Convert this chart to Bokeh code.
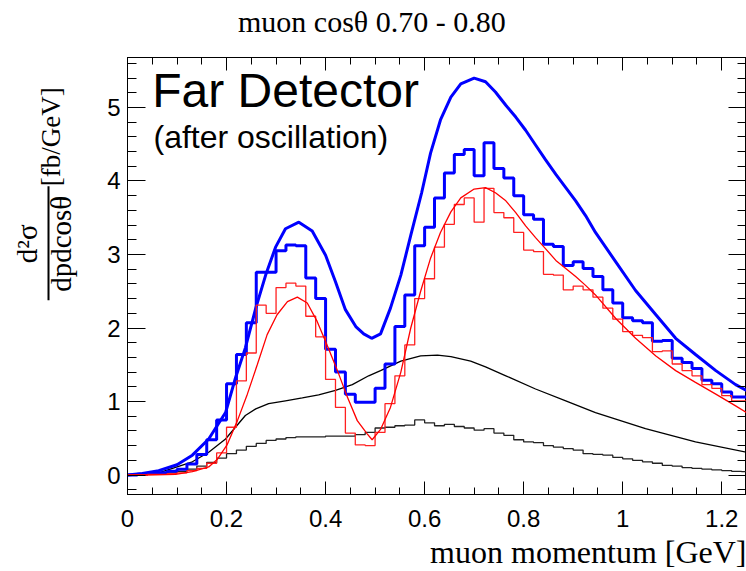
import numpy as np
from bokeh.plotting import figure
from bokeh.layouts import row, column
from bokeh.core.properties import value
from bokeh.models import (Label, LinearAxis, SingleIntervalTicker, Title,
                          CustomJSTickFormatter, Range1d)
from bokeh.embed import file_html
from bokeh.resources import INLINE

# ---------------- data ----------------
bin_width = 0.02

blue_hist = [0.0, 0.01, 0.02, 0.03, 0.05, 0.08, 0.15, 0.28, 0.48, 0.75,
             1.24, 1.64, 2.07, 2.76, 2.76, 3.05, 3.13, 3.12, 2.68, 2.40,
             1.71, 1.40, 1.10, 0.99, 0.99, 1.18, 1.51, 2.02, 2.45, 3.12,
             3.37, 3.77, 4.11, 4.36, 4.43, 4.07, 4.52, 4.17, 4.04, 3.80,
             3.54, 3.48, 3.14, 3.11, 2.85, 2.90, 2.81, 2.70, 2.52, 2.34,
             2.14, 2.10, 2.07, 1.82, 1.83, 1.59, 1.53, 1.45, 1.29, 1.24,
             1.13, 1.06, 1.06]

red_hist = [0.0, 0.0, 0.01, 0.01, 0.02, 0.03, 0.06, 0.09, 0.16, 0.30,
            0.65, 1.28, 1.66, 2.31, 2.20, 2.55, 2.61, 2.57, 2.16, 1.88,
            1.30, 0.92, 0.57, 0.41, 0.40, 0.58, 0.97, 1.35, 1.77, 2.40,
            2.67, 3.10, 3.41, 3.68, 3.77, 3.44, 3.90, 3.57, 3.50, 3.30,
            3.06, 3.04, 2.73, 2.72, 2.52, 2.57, 2.52, 2.42, 2.27, 2.12,
            1.95, 1.90, 1.87, 1.68, 1.69, 1.51, 1.42, 1.35, 1.23, 1.18,
            1.08, 1.01, 1.01]

black_hist = [0.0, 0.005, 0.01, 0.02, 0.03, 0.05, 0.08, 0.12, 0.17, 0.23,
              0.29, 0.34, 0.39, 0.43, 0.47, 0.49, 0.51, 0.52, 0.52, 0.52,
              0.53, 0.53, 0.53, 0.55, 0.58, 0.64, 0.65, 0.67, 0.68, 0.75,
              0.71, 0.67, 0.69, 0.66, 0.64, 0.61, 0.63, 0.57, 0.54, 0.48,
              0.45, 0.44, 0.40, 0.38, 0.36, 0.34, 0.29, 0.28, 0.27, 0.24,
              0.22, 0.20, 0.18, 0.16, 0.13, 0.12, 0.10, 0.09, 0.08, 0.07,
              0.06, 0.05, 0.045]

blue_curve_x = [0, 0.03, 0.063, 0.10, 0.131, 0.164, 0.198, 0.218, 0.238, 0.259,
                0.279, 0.299, 0.319, 0.346, 0.373, 0.400, 0.420, 0.440, 0.461, 0.477,
                0.493, 0.511, 0.531, 0.552, 0.572, 0.594, 0.612, 0.632, 0.653, 0.673,
                0.700, 0.723, 0.743, 0.764, 0.784, 0.804, 0.824, 0.844, 0.865, 0.885,
                0.905, 0.925, 0.945, 0.986, 1.026, 1.067, 1.107, 1.147, 1.188, 1.228, 1.25]
blue_curve_y = [0, 0.02, 0.06, 0.14, 0.27, 0.49, 0.85, 1.32, 1.73, 2.27,
                2.72, 3.10, 3.35, 3.44, 3.32, 2.99, 2.63, 2.25, 2.02, 1.92,
                1.86, 1.92, 2.27, 2.72, 3.26, 3.84, 4.38, 4.83, 5.14, 5.32,
                5.40, 5.35, 5.21, 5.03, 4.87, 4.69, 4.49, 4.29, 4.09, 3.91,
                3.73, 3.53, 3.30, 2.90, 2.51, 2.18, 1.86, 1.64, 1.42, 1.23, 1.15]

red_curve_x = [0, 0.036, 0.097, 0.131, 0.164, 0.181, 0.201, 0.222, 0.242, 0.262,
               0.282, 0.302, 0.323, 0.343, 0.363, 0.383, 0.403, 0.424, 0.444, 0.464,
               0.484, 0.494, 0.511, 0.531, 0.552, 0.572, 0.592, 0.612, 0.632, 0.653,
               0.673, 0.700, 0.723, 0.743, 0.764, 0.784, 0.804, 0.824, 0.844, 0.865,
               0.885, 0.905, 0.925, 0.945, 0.986, 1.026, 1.067, 1.107, 1.147, 1.188,
               1.228, 1.25]
red_curve_y = [0, 0.0, 0.01, 0.045, 0.11, 0.21, 0.41, 0.74, 1.10, 1.50,
               1.91, 2.18, 2.36, 2.42, 2.34, 2.09, 1.77, 1.42, 1.06, 0.74,
               0.56, 0.48, 0.62, 0.92, 1.40, 2.00, 2.50, 2.95, 3.30, 3.58,
               3.77, 3.89, 3.91, 3.84, 3.73, 3.57, 3.39, 3.23, 3.08, 2.92,
               2.81, 2.70, 2.58, 2.45, 2.13, 1.86, 1.62, 1.42, 1.26, 1.10,
               0.94, 0.85]

black_curve_x = [0, 0.063, 0.131, 0.164, 0.198, 0.218, 0.238, 0.259, 0.285, 0.319,
                 0.353, 0.386, 0.420, 0.454, 0.487, 0.511, 0.552, 0.592, 0.626, 0.653,
                 0.693, 0.723, 0.764, 0.824, 0.885, 0.945, 1.046, 1.147, 1.25]
black_curve_y = [0, 0.03, 0.18, 0.31, 0.49, 0.65, 0.81, 0.90, 0.97, 1.01,
                 1.05, 1.09, 1.15, 1.23, 1.35, 1.42, 1.55, 1.62, 1.63, 1.61,
                 1.55, 1.47, 1.35, 1.17, 1.01, 0.85, 0.63, 0.45, 0.31]

x_ticks_interval = 0.2
y_ticks_interval = 1

# ---------------- layout geometry (pixels) ----------------
TOTAL_W, TOTAL_H = 746, 571
YLAB_W = 80            # left strip holding the rotated y title
TITLE_H = 50           # top strip holding the title
FRAME_TOP, FRAME_BOTTOM = 57, 498
BODY_H = TOTAL_H - TITLE_H
BORDER_TOP = FRAME_TOP - TITLE_H
BORDER_BOTTOM = TOTAL_H - FRAME_BOTTOM
X0, X1 = 0, 1.25
Y0, Y1 = -0.265, 5.68

serif = value("Liberation Serif")

# ---------------- main figure ----------------
p = figure(width=TOTAL_W - YLAB_W, height=BODY_H, output_backend="svg",
           toolbar_location=None,
           x_range=Range1d(X0, X1), y_range=Range1d(Y0, Y1),
           min_border_left=127 - YLAB_W, min_border_right=0,
           min_border_top=BORDER_TOP, min_border_bottom=BORDER_BOTTOM,
           background_fill_color="white", border_fill_color="white")
p.grid.visible = False
p.outline_line_color = "black"
p.outline_line_width = 1

fmt = CustomJSTickFormatter(code="return tick.toFixed(1).replace(/\\.0$/, '');")
blank = CustomJSTickFormatter(code="return '';")

def style_axis(ax, major_in, minor_in):
    ax.major_tick_in = major_in
    ax.minor_tick_in = minor_in
    ax.major_tick_out = 0
    ax.minor_tick_out = 0
    ax.major_tick_line_color = "black"
    ax.minor_tick_line_color = "black"
    ax.axis_line_color = "black"
    ax.major_label_text_font = "Liberation Sans"
    ax.major_label_text_font_size = "24px"
    ax.major_label_text_color = "black"

xa = p.xaxis[0]
xa.ticker = SingleIntervalTicker(interval=x_ticks_interval, num_minor_ticks=4)
xa.formatter = fmt
style_axis(xa, 13, 7)
xa.major_label_standoff = 15

ya = p.yaxis[0]
ya.ticker = SingleIntervalTicker(interval=y_ticks_interval, num_minor_ticks=5)
style_axis(ya, 18, 9)
ya.major_label_standoff = 7

top = LinearAxis(ticker=SingleIntervalTicker(interval=x_ticks_interval, num_minor_ticks=4),
                 formatter=blank)
style_axis(top, 13, 7)
top.major_label_standoff = 0
top.major_label_text_font_size = "0px"
p.add_layout(top, "above")

right = LinearAxis(ticker=SingleIntervalTicker(interval=y_ticks_interval, num_minor_ticks=5),
                   formatter=blank)
style_axis(right, 18, 9)
right.major_label_standoff = 0
right.major_label_text_font_size = "0px"
p.add_layout(right, "right")

p.add_layout(Title(text="muon momentum [GeV]", align="right", standoff=4,
                   text_font="Liberation Serif", text_font_size="32px",
                   text_font_style="normal", text_color="black"), "below")

# ---------------- data marks ----------------
edges = [round(i * bin_width, 2) for i in range(len(blue_hist) + 1)]

p.line(black_curve_x, black_curve_y, line_color="black", line_width=1.3)
p.step(edges, black_hist + [black_hist[-1]], mode="after", line_color="#222222", line_width=1.3)
p.line(blue_curve_x, blue_curve_y, line_color="#0000ff", line_width=3)
p.step(edges, blue_hist + [blue_hist[-1]], mode="after", line_color="#0000ff", line_width=3)
p.step(edges, red_hist + [red_hist[-1]], mode="after", line_color="#ff2020", line_width=1.3)
p.line(red_curve_x, red_curve_y, line_color="#ff0000", line_width=1.3)

p.add_layout(Label(x=0.05, y=5.226, text="Far Detector", text_baseline="middle",
                   text_font="Liberation Sans", text_font_size="48px", text_color="black"))
p.add_layout(Label(x=0.0525, y=4.60, text="(after oscillation)", text_baseline="middle",
                   text_font="Liberation Sans", text_font_size="32px", text_color="black"))

# ---------------- title strip ----------------
tfig = figure(width=TOTAL_W, height=TITLE_H, output_backend="svg", toolbar_location=None,
              x_range=Range1d(X0, X1), y_range=Range1d(0, TITLE_H),
              min_border_left=127, min_border_right=2, min_border_top=0,
              min_border_bottom=0, x_axis_type=None, y_axis_type=None,
              outline_line_color=None, background_fill_color="white",
              border_fill_color="white")
tfig.grid.visible = False
tfig.text(x=[0.495], y=[TITLE_H - 21], text=["muon cos\u03b8 0.70 - 0.80"],
          text_align="center", text_baseline="middle", text_font=serif,
          text_font_size=value("30px"), text_color="black")

# ---------------- y-axis title strip (y in page pixels from the bottom) ----------------
ylab = figure(width=YLAB_W, height=BODY_H, output_backend="svg", toolbar_location=None,
              x_range=Range1d(0, YLAB_W),
              y_range=Range1d(TOTAL_H - FRAME_BOTTOM, TOTAL_H - FRAME_TOP),
              min_border_left=0, min_border_right=0, min_border_top=BORDER_TOP,
              min_border_bottom=BORDER_BOTTOM, x_axis_type=None, y_axis_type=None,
              outline_line_color=None, background_fill_color="white",
              border_fill_color="white")
ylab.grid.visible = False

ang = np.pi / 2
ylab.text(x=[26, 60], y=[TOTAL_H - 245, TOTAL_H - 245],
          text=["d\u00b2\u03c3", "dpdcos\u03b8"], angle=ang,
          text_align="center", text_baseline="middle",
          text_font=serif, text_font_size=value("29px"), text_color="black")
ylab.text(x=[50], y=[TOTAL_H - 137], text=["[fb/GeV]"], angle=ang,
          text_align="center", text_baseline="middle",
          text_font=serif, text_font_size=value("27px"), text_color="black")
ylab.quad(left=[47], right=[49], bottom=[TOTAL_H - 302], top=[TOTAL_H - 187],
          fill_color="black", line_color=None)

layout = column(tfig, row(ylab, p))
open("out.html", "w").write(file_html(layout, INLINE))
